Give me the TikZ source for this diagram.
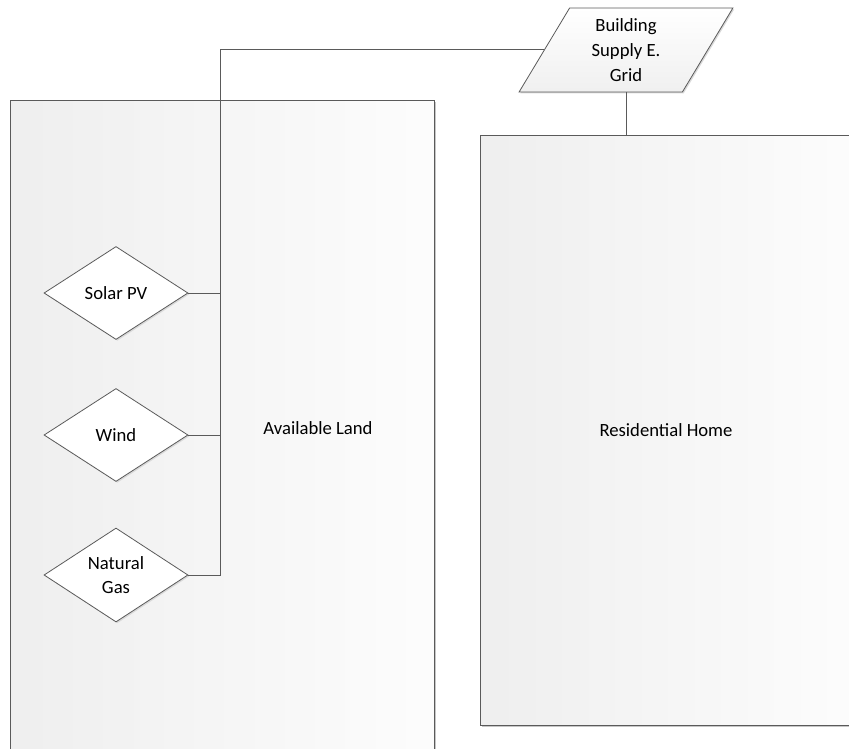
\documentclass[tikz,border=0pt]{standalone}
\usepackage{fontspec}
\setmainfont{Carlito}
\usetikzlibrary{shapes.geometric,shadows}
\definecolor{linegray}{HTML}{5A5A5A}
\begin{document}
\begin{tikzpicture}[x=0.75pt,y=-0.75pt,
    every node/.style={font=\fontsize{14}{18.5}\selectfont},
    areabox/.style={draw=linegray, line width=0.75pt, left color=gray!13, right color=gray!2,
        drop shadow={shadow xshift=1.5pt, shadow yshift=-1.5pt, fill=gray!45, opacity=1}},
    sourcebox/.style={diamond, draw=linegray, line width=0.6pt, fill=white, inner sep=0pt,
        align=center, minimum width=108pt, minimum height=69.75pt,
        drop shadow={shadow xshift=1pt, shadow yshift=-1pt, fill=gray!30, opacity=1}},
    gridbox/.style={trapezium, trapezium left angle=64, trapezium right angle=116,
        trapezium stretches=true, draw=linegray, line width=0.6pt, top color=white,
        bottom color=gray!12, align=center, minimum width=160.5pt, minimum height=63pt,
        drop shadow={shadow xshift=1pt, shadow yshift=-1pt, fill=gray!30, opacity=1}},
    wire/.style={draw=linegray, line width=0.75pt}]
    \useasboundingbox (0,0) rectangle (849,749);
    \clip (0,0) rectangle (849,749);

    %Available Land
    \node [areabox, minimum width=318pt, minimum height=496.5pt]
    (land)at(222,431){};
    \node (landlbl)at(318,428){Available Land};
    %Residential Home
    \node [areabox, minimum width=279pt, minimum height=442.5pt]
    (home)at(666,430){Residential Home};

    %Sources
    \node [sourcebox] (solar)at(116,293){Solar PV};
    \node [sourcebox] (wind)at(116,435){Wind};
    \node [sourcebox] (gas)at(116,575){Natural\\Gas};

    %Grid
    \node [gridbox] (grid)at(626,50){Building\\Supply E.\\Grid};

    \coordinate (bus)at([xshift=24pt]gas.east);
    \draw [wire](grid.west) -| (bus) -- (gas.east);
    \draw [wire](solar.east) -- (solar.east -| bus);
    \draw [wire](wind.east) -- (wind.east -| bus);
    \draw [wire](grid.south) -- (grid.south |- home.north);

\end{tikzpicture}
\end{document}
